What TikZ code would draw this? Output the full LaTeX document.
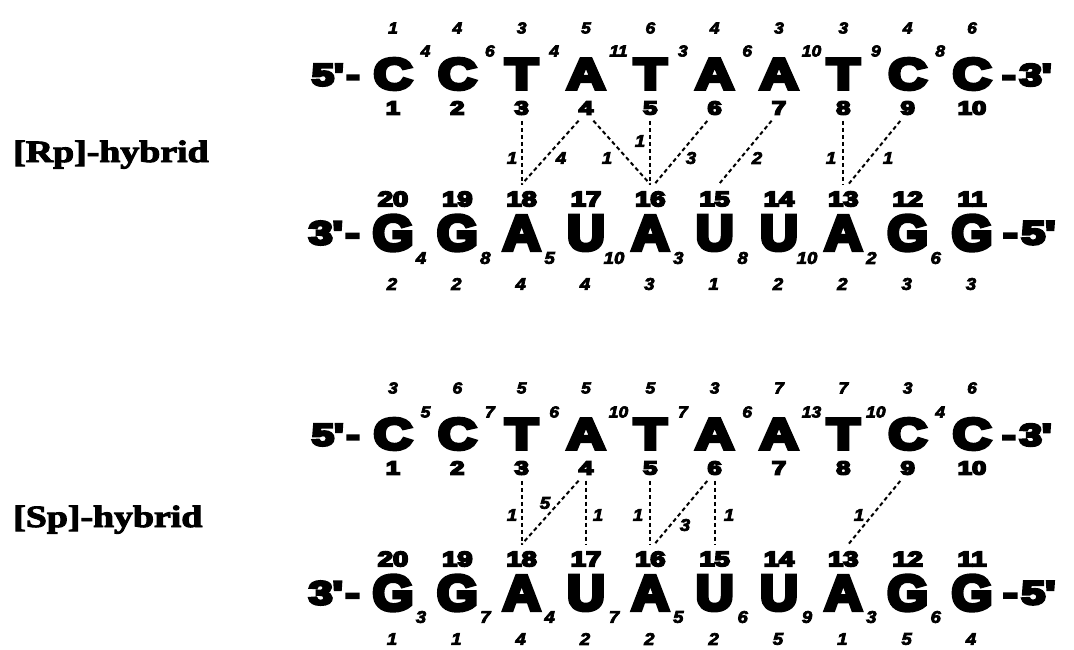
\documentclass[tikz,border=0pt]{standalone}
\usepackage{fontspec}
\newfontfamily\blk{Liberation Sans}[Ligatures=TeXOff, BoldFeatures={FakeBold=8}, BoldItalicFeatures={FakeBold=4}]
\newfontfamily\lblf{Liberation Serif}[BoldFeatures={FakeBold=3}]
\begin{document}
\begin{tikzpicture}[x=1pt,y=-1pt,
  toplet/.style={inner sep=0pt, font=\fontsize{44}{44}\blk\bfseries\selectfont, xscale=1.22},
  botlet/.style={inner sep=0pt, font=\fontsize{50}{50}\blk\bfseries\selectfont, xscale=1.05},
  topidx/.style={inner sep=0pt, font=\fontsize{19}{19}\blk\bfseries\selectfont, xscale=1.35},
  botidx/.style={inner sep=0pt, font=\fontsize{21}{21}\blk\bfseries\selectfont, xscale=1.3},
  itop/.style={inner sep=0pt, font=\fontsize{16}{16}\blk\bfseries\itshape\selectfont, xscale=1.1},
  ibot/.style={inner sep=0pt, font=\fontsize{17}{17}\blk\bfseries\itshape\selectfont, xscale=1.1},
  endtop/.style={inner sep=0pt, font=\fontsize{31}{31}\blk\bfseries\selectfont, xscale=1.3},
  endbot/.style={inner sep=0pt, font=\fontsize{33}{33}\blk\bfseries\selectfont, xscale=1.3},
  lab/.style={inner sep=0pt, font=\fontsize{31}{31}\lblf\bfseries\selectfont, xscale=1.22, anchor=base west},
  hb/.style={line width=2pt, dash pattern=on 4pt off 3pt}]
\fill[white] (0,0) rectangle (1074,649);
\useasboundingbox (0,0) rectangle (1074,649);

% strands
\foreach \p/\dy in {r/0,s/360}{
  \foreach \i/\T/\B in {1/C/G,2/C/G,3/T/A,4/A/U,5/T/A,6/A/U,7/A/U,8/T/A,9/C/G,10/C/G}{
    \pgfmathtruncatemacro\j{21-\i}
    \node[toplet] (\p T\i) at ({393+64.333*(\i-1)},{74+\dy}) {\T};
    \node[topidx] (\p I\i) at ({393+64.333*(\i-1)},{108+\dy}) {\i};
    \node[botidx] (\p B\j) at ({393+64.333*(\i-1)},{199+\dy}) {\j};
    \node[botlet] (\p L\j) at ({393+64.333*(\i-1)},{233+\dy}) {\B};
  }
  \node[endtop, anchor=east] (\p E5) at (360,{75+\dy}) {5'\kern2pt-};
  \node[endtop, anchor=west] (\p E3) at (1002,{75+\dy}) {-\kern3pt3'};
  \node[endbot, anchor=east] (\p F3) at (360,{233+\dy}) {3'\kern2pt-};
  \node[endbot, anchor=west] (\p F5) at (1003,{233+\dy}) {-\kern3pt5'};
}

\node[lab] (rlab) at (13,162) {[Rp]-hybrid};
\node[lab] (slab) at (13,527) {[Sp]-hybrid};

% Rp numbers
\foreach \n [count=\i] in {1,4,3,5,6,4,3,3,4,6}
  \node[itop] (rA\i) at ({393+64.333*(\i-1)},28) {\n};
\foreach \n [count=\i] in {4,6,4,11,3,6,10,9,8}
  \node[itop] (rS\i) at ({425.5+64.333*(\i-1)},51) {\n};
\foreach \n [count=\i] in {4,8,5,10,3,8,10,2,6}
  \node[ibot] (rD\i) at ({421+64.333*(\i-1)},258) {\n};
\foreach \n [count=\i] in {2,2,4,4,3,1,2,2,3,3}
  \node[ibot] (rZ\i) at ({392+64.333*(\i-1)},284) {\n};

% Sp numbers
\foreach \n [count=\i] in {3,6,5,5,5,3,7,7,3,6}
  \node[itop] (sA\i) at ({393+64.333*(\i-1)},388) {\n};
\foreach \n [count=\i] in {5,7,6,10,7,6,13,10,4}
  \node[itop] (sS\i) at ({425.5+64.333*(\i-1)},412) {\n};
\foreach \n [count=\i] in {3,7,4,7,5,6,9,3,6}
  \node[ibot] (sD\i) at ({421+64.333*(\i-1)},617) {\n};
\foreach \n [count=\i] in {1,1,4,2,2,2,5,1,5,4}
  \node[ibot] (sZ\i) at ({392+64.333*(\i-1)},639) {\n};

% Rp connectors
\draw[hb] ([yshift=-6pt]rI3.south) -- ([yshift=7pt]rB18.north);
\draw[hb] ([yshift=-6pt]rI4.south west) -- ([yshift=7pt]rB18.north);
\draw[hb] ([yshift=-6pt]rI4.south east) -- ([yshift=7pt]rB16.north);
\draw[hb] ([yshift=-6pt]rI5.south) -- ([yshift=7pt]rB16.north);
\draw[hb] ([yshift=-6pt]rI6.south west) -- ([xshift=4pt,yshift=7pt]rB16.north);
\draw[hb] ([yshift=-6pt]rI7.south west) -- ([xshift=4pt,yshift=7pt]rB15.north);
\draw[hb] ([yshift=-6pt]rI8.south) -- ([yshift=7pt]rB13.north);
\draw[hb] ([yshift=-6pt]rI9.south west) -- ([xshift=5pt,yshift=7pt]rB13.north);

\node[ibot] (rN1) at (512,158) {1};
\node[ibot] (rN2) at (561,158) {4};
\node[ibot] (rN3) at (607,158) {1};
\node[ibot] (rN4) at (640,141) {1};
\node[ibot] (rN5) at (691,158) {3};
\node[ibot] (rN6) at (757,158) {2};
\node[ibot] (rN7) at (831,158) {1};
\node[ibot] (rN8) at (888,158) {1};

% Sp connectors
\draw[hb] ([yshift=-6pt]sI3.south) -- ([yshift=7pt]sB18.north);
\draw[hb] ([yshift=-6pt]sI4.south west) -- ([yshift=7pt]sB18.north);
\draw[hb] ([yshift=-6pt]sI4.south) -- ([yshift=7pt]sB17.north);
\draw[hb] ([yshift=-6pt]sI5.south) -- ([yshift=7pt]sB16.north);
\draw[hb] ([yshift=-6pt]sI6.south west) -- ([xshift=4pt,yshift=7pt]sB16.north);
\draw[hb] ([yshift=-6pt]sI6.south) -- ([yshift=7pt]sB15.north);
\draw[hb] ([yshift=-6pt]sI9.south west) -- ([xshift=5pt,yshift=7pt]sB13.north);

\node[ibot] (sN1) at (512,515) {1};
\node[ibot] (sN2) at (545,503) {5};
\node[ibot] (sN3) at (598,515) {1};
\node[ibot] (sN4) at (638,515) {1};
\node[ibot] (sN5) at (685,525) {3};
\node[ibot] (sN6) at (729,515) {1};
\node[ibot] (sN7) at (859,515) {1};
\end{tikzpicture}
\end{document}
